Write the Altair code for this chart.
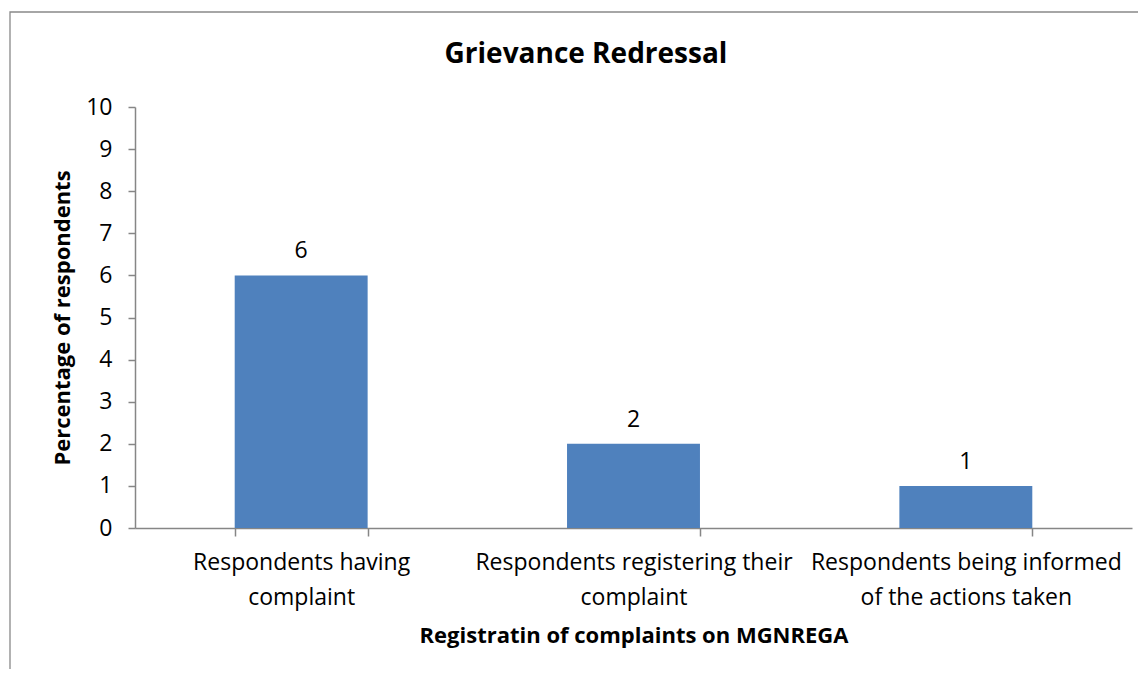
import altair as alt
import pandas as pd

categories = [
    "Respondents having complaint",
    "Respondents registering their complaint",
    "Respondents being informed of the actions taken",
]
label_lines = [
    ["Respondents having", "complaint"],
    ["Respondents registering their", "complaint"],
    ["Respondents being informed", "of the actions taken"],
]
values = [6, 2, 1]
y_ticks = list(range(0, 11))
chart_title = ["Grievance Redressal"]

df = pd.DataFrame({"category": categories, "value": values})

FONT = "Open Sans"
AXIS_GRAY = "#868686"
BAR_BLUE = "#4F81BD"

parts = []
for cat, lines in zip(categories, label_lines):
    arr = "[" + ", ".join("'" + l + "'" for l in lines) + "]"
    parts.append(f"datum.value == '{cat}' ? {arr}")
label_expr = " : ".join(parts) + " : datum.value"

x_enc = alt.X(
    "category:N",
    sort=categories,
    scale=alt.Scale(paddingInner=0.6, paddingOuter=0.3),
    axis=alt.Axis(
        title="Registratin of complaints on MGNREGA",
        titleFont=FONT,
        titleFontSize=22,
        titleFontWeight="bold",
        titleColor="black",
        titlePadding=16,
        labelFont=FONT,
        labelFontSize=23,
        labelColor="black",
        labelLineHeight=35,
        labelPadding=15,
        labelAngle=0,
        labelLimit=0,
        labelExpr=label_expr,
        tickBand="extent",
        ticks=True,
        tickSize=8,
        tickColor=AXIS_GRAY,
        domainColor=AXIS_GRAY,
        domainWidth=1.5,
        tickWidth=1.5,
        grid=False,
    ),
)

y_enc = alt.Y(
    "value:Q",
    scale=alt.Scale(domain=[0, 10], nice=False),
    axis=alt.Axis(
        title="Percentage of respondents",
        titleFont=FONT,
        titleFontSize=22,
        titleFontWeight="bold",
        titleColor="black",
        titlePadding=11,
        values=y_ticks,
        labelFont=FONT,
        labelFontSize=23,
        labelColor="black",
        labelPadding=16,
        tickSize=7,
        tickColor=AXIS_GRAY,
        domainColor=AXIS_GRAY,
        domainWidth=1.5,
        tickWidth=1.5,
        grid=False,
    ),
)

base = alt.Chart(df)

bars = base.mark_bar(color=BAR_BLUE).encode(x=x_enc, y=y_enc)

labels = base.mark_text(
    font=FONT, fontSize=23, color="black", dy=-17, baseline="alphabetic"
).encode(x=alt.X("category:N", sort=categories), y="value:Q", text="value:Q")

border = alt.Chart(pd.DataFrame({"b": [0]})).mark_rect(
    fillOpacity=0, stroke="#898989", strokeWidth=1.3
).encode(
    x=alt.value(-125), x2=alt.value(1030), y=alt.value(-95), y2=alt.value(600)
)

title = alt.Chart(pd.DataFrame({"t": chart_title})).mark_text(
    font=FONT, fontSize=28, fontWeight="bold", color="black",
    baseline="alphabetic", align="center"
).encode(x=alt.value(451), y=alt.value(-44), text="t:N")

chart = (
    alt.layer(border, bars, labels, title)
    .properties(
        width=997,
        height=421,
        view=alt.ViewBackground(stroke=None, strokeOpacity=0),
        autosize=alt.AutoSizeParams(type="none"),
        padding={"left": 127, "top": 99, "right": 6, "bottom": 141},
    )
    .configure_view(strokeOpacity=0, strokeWidth=0)
    .configure(background="white")
)

chart.save("out.html", embed_options={"renderer": "svg", "actions": False})
